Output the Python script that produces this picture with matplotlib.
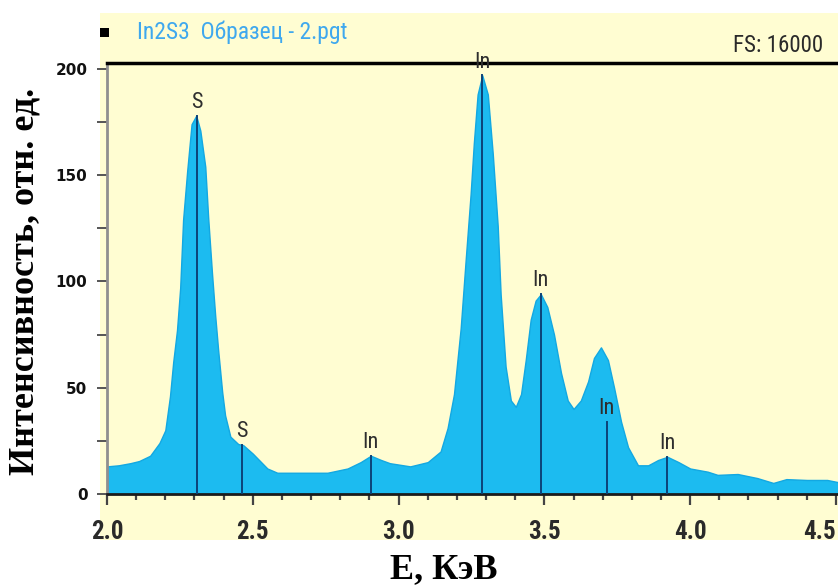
import numpy as np
import matplotlib.pyplot as plt
from matplotlib.patches import Rectangle
from matplotlib.ticker import MultipleLocator
from matplotlib import font_manager

# spectrum (energy keV, counts rel. units)
energy = [2.00, 2.04, 2.08, 2.11, 2.148, 2.18, 2.20, 2.216, 2.227, 2.24, 2.251, 2.261,
          2.275, 2.29, 2.306, 2.32, 2.337, 2.347, 2.36, 2.371, 2.381, 2.395, 2.405, 2.423,
          2.45, 2.467, 2.50, 2.55, 2.584, 2.65, 2.70, 2.756, 2.825, 2.87, 2.905, 2.94,
          2.97, 3.04, 3.10, 3.144, 3.168, 3.19, 3.213, 3.23, 3.247, 3.258, 3.271, 3.287,
          3.306, 3.323, 3.34, 3.35, 3.367, 3.385, 3.402, 3.42, 3.436, 3.453, 3.47, 3.488,
          3.51, 3.533, 3.557, 3.58, 3.60, 3.625, 3.65, 3.67, 3.694, 3.718, 3.739, 3.763,
          3.787, 3.821, 3.856, 3.89, 3.922, 3.96, 4.00, 4.06, 4.094, 4.163, 4.23, 4.285,
          4.33, 4.40, 4.47, 4.51]
counts = [13, 13.5, 14.5, 15.5, 18, 24, 30, 46, 62, 77, 97, 129,
          152, 174, 178, 171, 154, 130, 104, 84, 68, 48, 37, 27,
          23.5, 23, 19, 12, 10, 10, 10, 10, 12, 15, 18, 16,
          14.5, 13, 15, 20, 31, 47, 78, 110, 141, 165, 188, 197,
          188, 160, 126, 94, 60, 44, 41, 47, 63, 82, 91, 94,
          88, 75, 57, 44, 40, 44, 53, 64, 69, 63, 50, 34,
          22, 13.5, 13.5, 16, 17.5, 15, 12, 10.5, 9, 9.4, 7.5, 5.2,
          7, 6.6, 6.6, 5.5]

# element line markers
line_energy = [2.307, 2.464, 2.904, 3.287, 3.487, 3.714, 3.921]
line_height = [178, 23, 18, 197, 94, 34, 17.5]
line_label = ['S', 'S', 'In', 'In', 'In', 'In', 'In']

# pick a narrow sans if one is around
names = {f.name for f in font_manager.fontManager.ttflist}
narrow_pick = [n for n in ['Liberation Sans Narrow', 'Arial Narrow', 'Roboto Condensed',
                           'Open Sans Condensed', 'DejaVu Sans'] if n in names]
narrow = dict(family=narrow_pick[0], stretch='condensed')
yellow = '#fffdd2'

fig = plt.figure(figsize=(8.38, 5.87), dpi=100)
W, H = 838, 587
# yellow panel behind the plot
fig.patches.append(Rectangle((100 / W, 1 - 540 / H), 738 / W, 527 / H,
                             transform=fig.transFigure, facecolor=yellow,
                             edgecolor='none', zorder=-5))

ax = fig.add_axes([107 / W, 1 - 494 / H, 731 / W, 431 / H])
ax.set_facecolor(yellow)
ax.fill_between(energy, counts, 0, color='#1cbbf0', edgecolor='#13a8e2', lw=1, zorder=2)

for e, h, lab in zip(line_energy, line_height, line_label):
    ax.plot([e, e], [0, h], color='#0c4278', lw=1.4, zorder=3)
    ax.annotate(lab, (e, h), xytext=(0, 2), textcoords='offset points',
                ha='center', va='bottom', fontsize=16, color='#2e2e2e',
                zorder=4, annotation_clip=False, **narrow)

ax.set_xlim(2.0, 4.507)
ax.set_ylim(0, 202.8)

ax.xaxis.set_minor_locator(MultipleLocator(0.1))
ax.yaxis.set_major_locator(MultipleLocator(50))
ax.yaxis.set_minor_locator(MultipleLocator(25))
ax.set_xticks([2.0, 2.5, 3.0, 3.5, 4.0, 4.5])
ax.set_xticklabels(['2.0', '2.5', '3.0', '3.5', '4.0', '4.5'])

ax.tick_params(axis='x', which='major', direction='out', length=8, width=1.6,
               color='#444444', pad=11, labelsize=18)
ax.tick_params(axis='x', which='minor', direction='out', length=4.5, width=1.6,
               color='#444444')
ax.tick_params(axis='y', which='both', direction='out', length=7, width=1.4,
               color='#555555', pad=7, labelsize=11)
for t in ax.get_xticklabels():
    t.set_family(narrow['family'])
    t.set_stretch('condensed')
    t.set_fontweight('bold')
    t.set_color('#2a2a2a')
ax.get_xticklabels()[-1].set_horizontalalignment('right')
for t in ax.get_yticklabels():
    t.set_fontweight('bold')
    t.set_color('#111111')

ax.spines['right'].set_visible(False)
ax.spines['top'].set_color('black')
ax.spines['top'].set_linewidth(2.5)
ax.spines['left'].set_color('#8f8f8f')
ax.spines['left'].set_linewidth(2)
ax.spines['bottom'].set_color('#1b1b1b')
ax.spines['bottom'].set_linewidth(2)

# header
fig.patches.append(Rectangle((100 / W, 1 - 37 / H), 9 / W, 9 / H,
                             transform=fig.transFigure, facecolor='black', zorder=5))
fig.text(137 / W, 1 - 32 / H, 'In2S3  Образец - 2.pgt', fontsize=17, color='#3fa8ee',
         va='center', ha='left', **narrow)
fig.text(823 / W, 1 - 46 / H, 'FS: 16000', fontsize=16.5, color='#2a2a2a',
         va='center', ha='right', **narrow)

fig.text(444 / W, 1 - 570 / H, 'E, КэВ', fontsize=26, fontweight='bold',
         family='Liberation Serif', ha='center', va='center')
fig.text(25 / W, 1 - 281 / H, 'Интенсивность, отн. ед.', fontsize=26, fontweight='bold',
         family='Liberation Serif', ha='center', va='center', rotation=90)

fig.savefig('out.png', dpi=100)
